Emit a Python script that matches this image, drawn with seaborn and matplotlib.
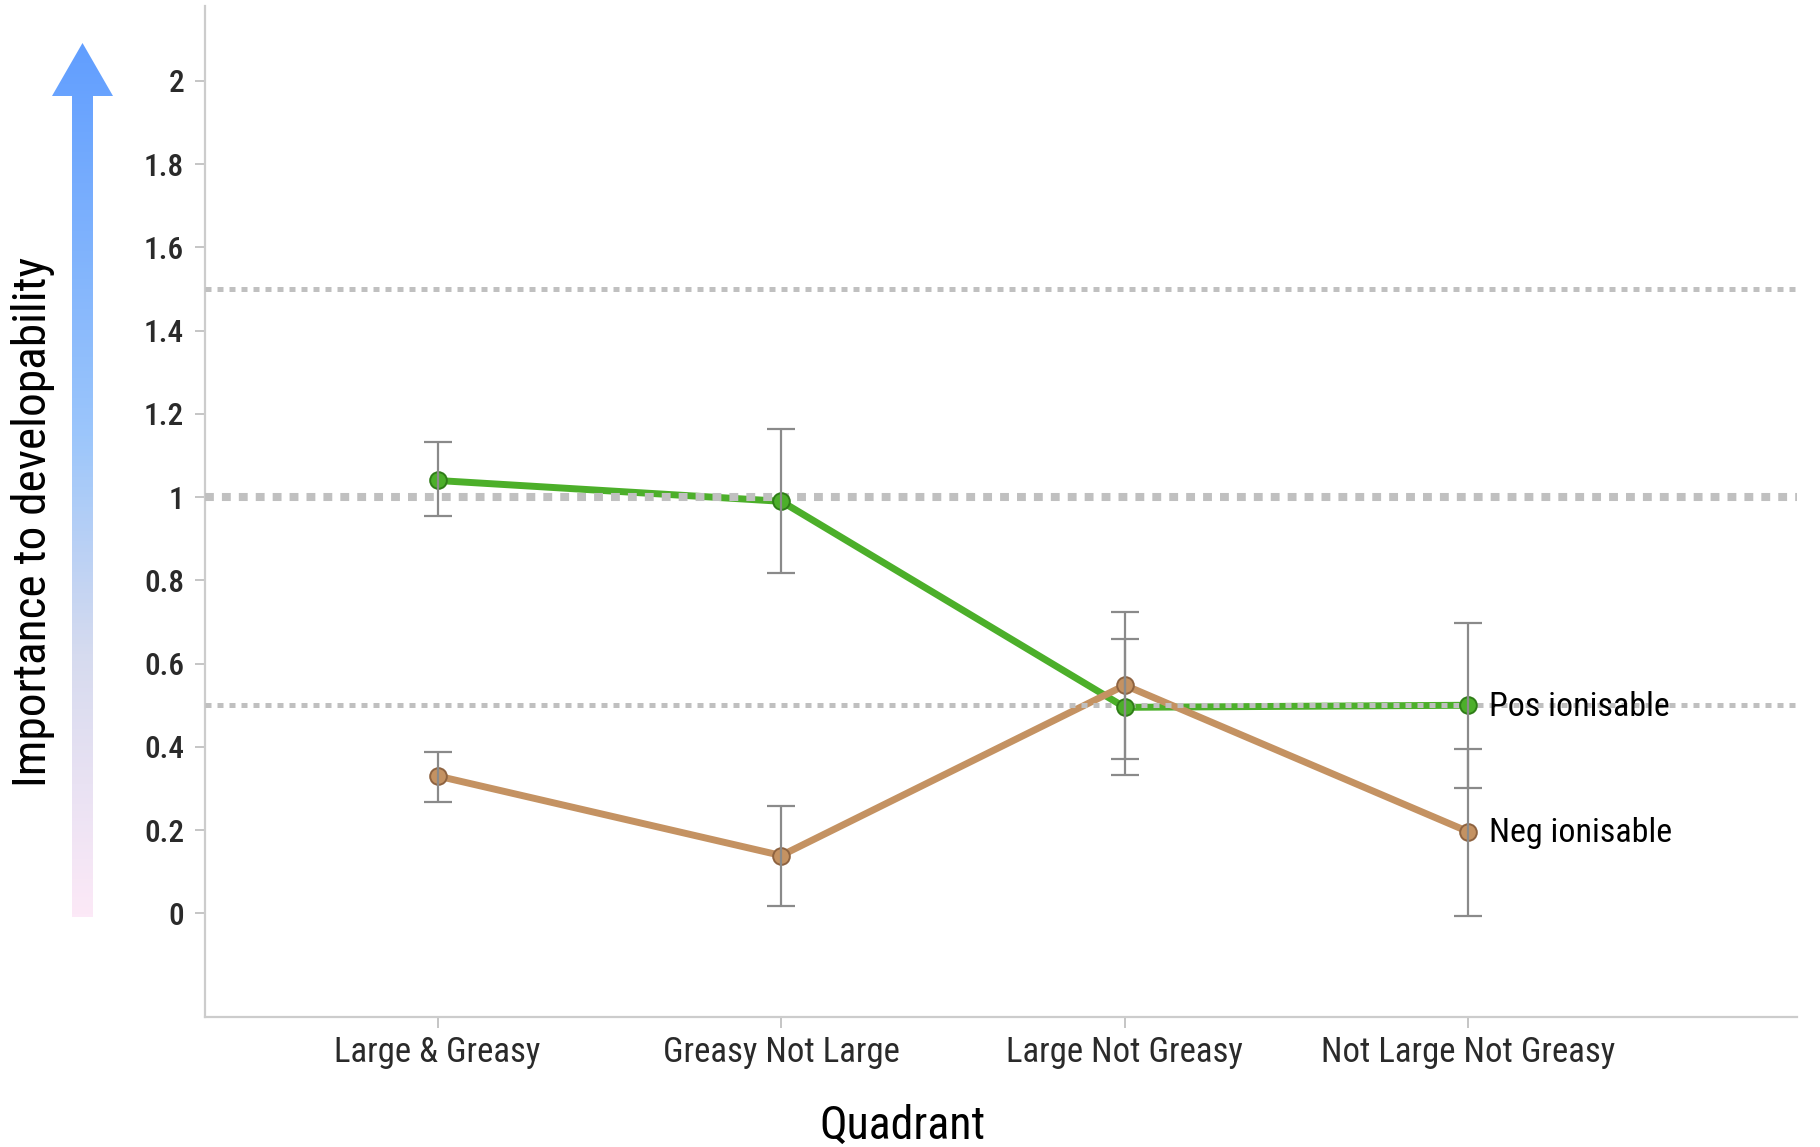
import numpy as np
import pandas as pd
import matplotlib
matplotlib.use("Agg")
import matplotlib.pyplot as plt
import seaborn as sns
from matplotlib.colors import LinearSegmentedColormap
from matplotlib.patches import Polygon
from matplotlib.ticker import FuncFormatter
from matplotlib import font_manager as fm

# ---------------- data ----------------
quadrants = ["Large & Greasy", "Greasy Not Large", "Large Not Greasy", "Not Large Not Greasy"]
pos_mean = [1.04, 0.99, 0.495, 0.50]
pos_low = [0.955, 0.817, 0.332, 0.301]
pos_high = [1.133, 1.163, 0.658, 0.697]
neg_mean = [0.33, 0.139, 0.548, 0.196]
neg_low = [0.268, 0.017, 0.371, -0.006]
neg_high = [0.388, 0.259, 0.725, 0.396]
series_names = ["Pos ionisable", "Neg ionisable"]
ref_lines = [1.5, 1.0, 0.5]
y_ticks = [0, 0.2, 0.4, 0.6, 0.8, 1.0, 1.2, 1.4, 1.6, 1.8, 2.0]

df = pd.DataFrame({
    "Quadrant": quadrants * 2,
    "value": pos_mean + neg_mean,
    "series": [series_names[0]] * 4 + [series_names[1]] * 4,
})

sns.set_style("white")

# pick a condensed face if one is installed
cands = []
for f in fm.fontManager.ttflist:
    nm = f.name
    st = str(f.stretch)
    if ("Narrow" in nm or "Condensed" in nm or st in ("condensed", "semi-condensed")) \
            and f.style == "normal" and f.weight in (400, "normal", "regular"):
        cands.append((nm, st))
pref_order = ["Liberation Sans Narrow", "Roboto Condensed", "Noto Sans", "Open Sans",
              "DejaVu Sans Condensed", "DejaVu Sans"]
chosen = None
for p in pref_order:
    for nm, st in cands:
        if nm == p:
            chosen = (nm, st)
            break
    if chosen:
        break
if chosen is None and cands:
    chosen = cands[0]
if chosen:
    FONT = [chosen[0], "Roboto", "DejaVu Sans"]
    plt.rcParams["font.stretch"] = chosen[1] if chosen[1] in ("condensed", "semi-condensed") else "normal"
else:
    FONT = ["Roboto", "DejaVu Sans"]
plt.rcParams["font.family"] = FONT

W, H = 1820, 1147
fig = plt.figure(figsize=(W / 100, H / 100), dpi=100)
ax = fig.add_axes([205 / W, 1 - 1017 / H, (1797 - 205) / W, (1017 - 6) / H])

green = "#4caf2a"
brown = "#c49262"
green_edge = "#2f7d18"
brown_edge = "#8e6340"
palette = {series_names[0]: green, series_names[1]: brown}

sns.lineplot(data=df, x="Quadrant", y="value", hue="series", palette=palette,
             linewidth=5, ax=ax, legend=False, zorder=3, sort=False)
for ln in ax.lines:
    ln.set_linewidth(5.0)
    ln.set_solid_capstyle("round")
    ln.set_solid_joinstyle("round")

# reference dotted lines (drawn over the series lines)
for yv in ref_lines:
    if yv == 1.0:
        ax.axhline(yv, color="#c0c0c0", linewidth=5.8, linestyle=(0, (1.1, 1.0)),
                   zorder=3.5)
    else:
        ax.axhline(yv, color="#c0c0c0", linewidth=3.6, linestyle=(0, (1.2, 1.2)),
                   zorder=3.5)

# markers above the dotted lines
xs = np.arange(len(quadrants))
ax.plot(xs, pos_mean, linestyle="none", marker="o", markersize=12,
        markerfacecolor=green, markeredgecolor=green_edge, markeredgewidth=1.4, zorder=4)
ax.plot(xs, neg_mean, linestyle="none", marker="o", markersize=12,
        markerfacecolor=brown, markeredgecolor=brown_edge, markeredgewidth=1.4, zorder=4)

# error bars
for mean, lo, hi in [(pos_mean, pos_low, pos_high), (neg_mean, neg_low, neg_high)]:
    mean = np.array(mean)
    yerr = np.vstack([mean - np.array(lo), np.array(hi) - mean])
    ax.errorbar(xs, mean, yerr=yerr, fmt="none", ecolor="#8a8a8a",
                elinewidth=1.6, capsize=10, capthick=1.6, zorder=5)

# series labels
ax.annotate(series_names[0], (xs[-1], pos_mean[-1]), xytext=(15, -1),
            textcoords="offset points", va="center", ha="left",
            fontsize=24.5, color="black", zorder=6)
ax.annotate(series_names[1], (xs[-1], neg_mean[-1]), xytext=(15, -1),
            textcoords="offset points", va="center", ha="left",
            fontsize=24.5, color="black", zorder=6)

ax.set_xlim(-0.677, 3.956)
ax.set_ylim(-0.249, 2.18)
ax.set_yticks(y_ticks)
ax.yaxis.set_major_formatter(FuncFormatter(lambda v, p: ("%.1f" % v).rstrip("0").rstrip(".")))
ax.tick_params(axis="y", labelsize=22.5, labelcolor="#2a2a2a", color="#bbbbbb",
               length=7, width=1.2, direction="out", left=True, pad=8)
ax.tick_params(axis="x", labelsize=25, labelcolor="#2a2a2a", color="#bbbbbb",
               length=8, width=1.2, direction="out", bottom=True, pad=6)
for lab in ax.get_yticklabels():
    lab.set_fontweight("medium")
ax.set_xlabel("")
ax.set_ylabel("")
for s in ["top", "right"]:
    ax.spines[s].set_visible(False)
for s in ["left", "bottom"]:
    ax.spines[s].set_color("#cccccc")
    ax.spines[s].set_linewidth(1.6)

# axis titles
fig.text(902 / W, 1 - 1126 / H, "Quadrant", ha="center", va="center",
         fontsize=33, color="black")
fig.text(33 / W, 1 - 522 / H, "Importance to developability", ha="center",
         va="center", rotation=90, fontsize=34, color="black")

# gradient arrow
ov = fig.add_axes([0, 0, 1, 1], zorder=-1)
ov.set_xlim(0, W)
ov.set_ylim(H, 0)
ov.axis("off")
cmap = LinearSegmentedColormap.from_list(
    "arr", [(0.0, "#fce9f7"), (0.3, "#d6dbef"), (0.55, "#9cc6fb"), (1.0, "#619eff")])
grad = np.linspace(0, 1, 256).reshape(-1, 1)
pts = [(72, 917), (93, 917), (93, 96), (113, 96), (82.5, 43), (52, 96), (72, 96)]
poly = Polygon(pts, closed=True, facecolor="none", edgecolor="none")
ov.add_patch(poly)
im = ov.imshow(grad, cmap=cmap, aspect="auto", extent=(52, 113, 917, 43),
               origin="lower")
im.set_clip_path(poly)

fig.savefig("out.png", dpi=100)
